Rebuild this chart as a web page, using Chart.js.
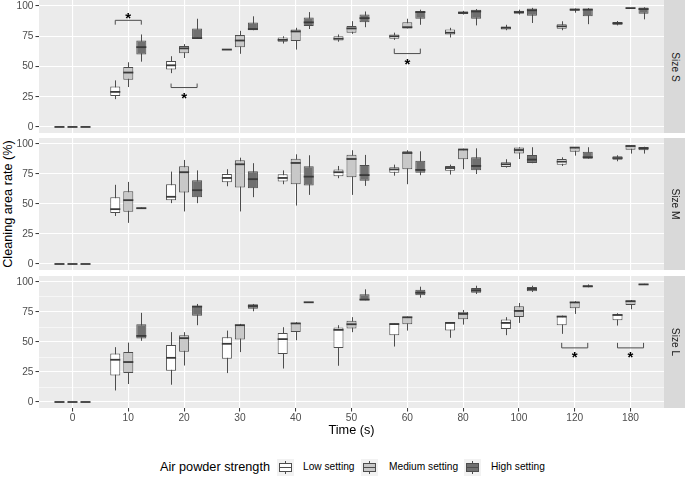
<!DOCTYPE html>
<html>
<head>
<meta charset="utf-8">
<script src="https://cdn.jsdelivr.net/npm/chart.js@4.4.1/dist/chart.umd.min.js"></script>
<style>
  html, body { margin: 0; padding: 0; background: #FFFFFF; }
  body { width: 685px; height: 479px; position: relative; overflow: hidden;
         font-family: "Liberation Sans", Arial, Helvetica, sans-serif; }
  canvas { position: absolute; left: 0; }
  .strip { position: absolute; left: 664px; width: 21px; background: #D9D9D9; }
  .strip span { position: absolute; left: 50%; top: 50%; white-space: nowrap;
                transform: translate(-50%, -50%) rotate(90deg);
                font-size: 10.2px; color: #1A1A1A; line-height: 1; }
  #ytitle { position: absolute; left: 8px; top: 204px; white-space: nowrap;
            transform: translate(-50%, -50%) rotate(-90deg);
            font-size: 12.7px; color: #000; line-height: 1; }
  .lg { position: absolute; top: 467px; transform: translateY(-50%); white-space: nowrap; line-height: 1; }
  .lgtitle { font-size: 12.7px; color: #000; }
  .lgtext { font-size: 10.2px; color: #000; }
  .key { position: absolute; top: 459px; width: 17px; height: 17px; background: #F2F2F2; }
  .key .w { position: absolute; left: 8px; width: 1px; background: #4D4D4D; }
  .key .b { position: absolute; left: 2px; top: 4px; width: 11px; height: 7px; border: 1px solid #4D4D4D; }
  .key .m { position: absolute; left: 2px; top: 8px; width: 13px; height: 1px; background: #4D4D4D; }
</style>
</head>
<body>
<div id="ytitle">Cleaning area rate (%)</div>
<canvas id="c1" width="685" height="133" style="top:0px"></canvas>
<canvas id="c2" width="685" height="132" style="top:138px"></canvas>
<canvas id="c3" width="685" height="162" style="top:276px"></canvas>
<div class="strip" style="top:0px;height:133px"><span id="s1"></span></div>
<div class="strip" style="top:138px;height:132px"><span id="s2"></span></div>
<div class="strip" style="top:276px;height:132px"><span id="s3"></span></div>

<span class="lg lgtitle" style="left:160px">Air powder strength</span>
<div class="key" style="left:277px"><div class="w" style="top:2px;height:3px"></div><div class="w" style="top:12px;height:3px"></div><div class="b" style="background:#FFFFFF"></div><div class="m"></div></div>
<span class="lg lgtext" id="l1" style="left:303px"></span>
<div class="key" style="left:361px"><div class="w" style="top:2px;height:3px"></div><div class="w" style="top:12px;height:3px"></div><div class="b" style="background:#C8C8C8"></div><div class="m"></div></div>
<span class="lg lgtext" id="l2" style="left:389px"></span>
<div class="key" style="left:464px"><div class="w" style="top:2px;height:3px"></div><div class="w" style="top:12px;height:3px"></div><div class="b" style="background:#707070"></div><div class="m"></div></div>
<span class="lg lgtext" id="l3" style="left:491px"></span>

<script>
// ---------------- DATA ----------------
const categories = ['0', '10', '20', '30', '40', '50', '60', '80', '100', '120', '180'];
const seriesNames = ['Low setting', 'Medium setting', 'High setting'];
const panelNames = ['Size S', 'Size M', 'Size L'];
const yTickValues = [0, 12.5, 25, 37.5, 50, 62.5, 75, 87.5, 100];

// box statistics per category: [lower whisker, Q1, median, Q3, upper whisker]
const sizeS_low = [[0,0,0,0,0],[23,25.5,29,33.5,38.5],[44.5,47.5,51,54.5,58.5],[64,64,64,64,64],[69,70.5,72,74,75],[70.5,71.5,73,75,76.5],[72,73,75,76.5,78],[74,76.5,78,80.5,82],[80,80.5,82,83,84.5],[80,81.3,83.2,85,87.4],[84,84.6,85.7,86.8,87.6]];
const sizeS_medium = [[0,0,0,0,0],[33,39,45,49.5,53.5],[57,61,65,67,68.5],[60.5,66,71.5,76,79.5],[64,71,79,80.5,82],[77,78,81.5,83.5,87.5],[81.5,81.5,82.5,86.5,89.5],[93,93.5,94.5,95.5,96],[93,93.7,95,96.2,97],[94.5,96.2,97,97.9,98],[98.3,98.3,98.3,98.3,98.3]];
const sizeS_high = [[0,0,0,0,0],[54,60,66,71.5,76.5],[73,73,73.5,81.5,89.5],[80,80,81,86.3,91.5],[81,83.5,86.5,90.5,95],[82.5,86.5,90,93,95.5],[84.5,89.5,95,96,97],[84,89.5,95.5,97,97.5],[86,92,96.5,98,98.5],[85,91.5,97,98,98.3],[89,93.7,97.5,98.7,99]];

const sizeM_low = [[0,0,0,0,0],[40,42.4,45.7,55.7,66],[50.7,53.2,56,66.5,77],[64.8,68.2,71.7,75,79],[66.5,68.7,71.7,74.8,78],[71.5,73.2,76.5,78.8,81.7],[73.6,76.1,78.8,80.6,82.8],[74.5,77.8,80,81.7,82.8],[80.3,80.9,83.1,84.8,87.3],[81.7,82.8,85.3,87.5,88.9],[85.6,86.9,88.3,89.7,90.6]];
const sizeM_medium = [[0,0,0,0,0],[34.3,43.5,53.2,60.7,68.4],[43.8,59.5,76.5,81.5,86.7],[43.8,63.7,83.1,86.4,88.6],[48.7,66.5,84.2,87.8,91.4],[57.6,72.3,87.5,91.1,94.8],[66.5,79,92.5,93.9,94.8],[79,87.3,95.4,95.6,96.1],[87.5,92,95,97.1,97.3],[90.3,93.6,97,97.3,97.5],[92,95.3,98.3,98.9,99]];
const sizeM_high = [[0,0,0,0,0],[46,46,46.5,47,47],[50.7,55.7,61.5,69.8,78],[55.7,63.2,70.7,77.3,84],[57.6,65.4,72.8,81.5,90.6],[65.1,69.3,74.1,82.4,90.9],[74,76.1,78.4,86.1,93.9],[75,78.1,81.7,88.9,96.4],[84,84.2,87,90.9,97.3],[87.8,87.8,89,93.6,97.3],[92,94.8,96.5,97.5,97.7]];

const sizeL_low = [[0,0,0,0,0],[9.6,22.1,35.2,40.4,45.7],[14.4,26,36.8,47.4,58.2],[24.1,36,48.5,54,59.5],[27.9,40.1,52.4,57.6,62.3],[30.2,44.9,60.1,62,64],[46.2,55.7,65,65.1,65.3],[53.5,59.5,65.9,66.2,66.5],[55.7,60.9,65.9,68.7,70.7],[56.8,64,71.2,71.5,72],[63.7,68.2,72.5,73.2,74]];
const sizeL_medium = [[0,0,0,0,0],[15,24.1,33.3,41.6,49.5],[30.4,41.8,53.2,55.7,58.2],[41.6,52,64,64.5,65.1],[51.5,58.4,65.5,65.9,66.5],[58.2,61.2,64.8,67.8,70.7],[59.5,64.8,70.6,71,71.2],[64.5,69,73.4,75.3,76.7],[65.9,70.9,75.9,79.8,82.5],[73.4,78.1,83,83.4,84],[77.3,80.9,84,84.5,85]];
const sizeL_high = [[0,0,0,0,0],[51,52.9,55.1,64.8,74.3],[64,71.8,79.5,80.3,81.7],[75.6,77.8,80,81.5,81.7],[83,83,83.1,83.2,83.2],[84.8,84.8,85.3,89.8,93.9],[86.9,88.9,91.1,93.6,96.1],[90,91.1,93,95,96.9],[91.7,92.3,94.2,95.8,96.9],[95.6,95.6,96.4,97.2,98],[97.5,97.7,98,98.3,98.5]];

// significance annotations: category index, bracket level, bracket tip level, star level (data units)
const signifS = [{cat: 1, line: 88.2, tip: 84.6, star: 93}, {cat: 2, line: 32.6, tip: 35.9, star: 27}, {cat: 6, line: 60.7, tip: 64.8, star: 55.1}];
const signifM = [];
const signifL = [{cat: 9, line: 45.1, tip: 49.3, star: 40.4}, {cat: 10, line: 45.1, tip: 49.3, star: 40.4}];

// ---------------- STYLE ----------------
const FONT = '"Liberation Sans", Arial, Helvetica, sans-serif';
const fills = ['#FFFFFF', '#C8C8C8', '#707070'];
const outline = '#4D4D4D';

document.getElementById('s1').textContent = panelNames[0];
document.getElementById('s2').textContent = panelNames[1];
document.getElementById('s3').textContent = panelNames[2];
document.getElementById('l1').textContent = seriesNames[0];
document.getElementById('l2').textContent = seriesNames[1];
document.getElementById('l3').textContent = seriesNames[2];

const panelBg = {
  id: 'panelBg',
  beforeDraw(chart) {
    const a = chart.chartArea, ctx = chart.ctx;
    ctx.save();
    ctx.fillStyle = '#EBEBEB';
    ctx.fillRect(a.left, a.top, a.right - a.left, a.bottom - a.top);
    ctx.restore();
  }
};

const boxParts = {
  id: 'boxParts',
  beforeDatasetsDraw(chart) {
    const ctx = chart.ctx, ys = chart.scales.y;
    chart.data.datasets.forEach((ds, di) => {
      const meta = chart.getDatasetMeta(di);
      meta.data.forEach((el, i) => {
        const st = ds.stats[i];
        const x = Math.round(el.x) + 0.5;
        ctx.save();
        ctx.strokeStyle = outline;
        ctx.lineWidth = 1;
        ctx.beginPath();
        ctx.moveTo(x, ys.getPixelForValue(st[0]));
        ctx.lineTo(x, ys.getPixelForValue(st[4]));
        ctx.stroke();
        ctx.restore();
      });
    });
  },
  afterDatasetsDraw(chart) {
    const ctx = chart.ctx, ys = chart.scales.y;
    chart.data.datasets.forEach((ds, di) => {
      const meta = chart.getDatasetMeta(di);
      meta.data.forEach((el, i) => {
        const st = ds.stats[i];
        const y = ys.getPixelForValue(st[2]);
        ctx.save();
        ctx.strokeStyle = '#3A3A3A';
        ctx.lineWidth = 1.8;
        ctx.beginPath();
        ctx.moveTo(el.x - el.width / 2, y);
        ctx.lineTo(el.x + el.width / 2, y);
        ctx.stroke();
        ctx.restore();
      });
    });
    // significance brackets
    const sig = chart.options.plugins.signif.items || [];
    sig.forEach(s => {
      const a = chart.getDatasetMeta(0).data[s.cat];
      const b = chart.getDatasetMeta(2).data[s.cat];
      const yl = ys.getPixelForValue(s.line), yt = ys.getPixelForValue(s.tip), yst = ys.getPixelForValue(s.star);
      ctx.save();
      ctx.strokeStyle = '#4D4D4D';
      ctx.lineWidth = 1;
      ctx.beginPath();
      ctx.moveTo(a.x, yt); ctx.lineTo(a.x, yl); ctx.lineTo(b.x, yl); ctx.lineTo(b.x, yt);
      ctx.stroke();
      ctx.fillStyle = '#000000';
      ctx.font = 'bold 15px ' + FONT;
      ctx.textAlign = 'center';
      ctx.textBaseline = 'alphabetic';
      ctx.fillText('*', (a.x + b.x) / 2, yst + 0.57 * 15);
      ctx.restore();
    });
  }
};

function makeDatasets(low, medium, high) {
  return [low, medium, high].map((stats, s) => ({
    label: seriesNames[s],
    data: stats.map((st, i) => ({x: i, y: [st[1], st[3]]})),
    stats: stats,
    backgroundColor: fills[s],
    borderColor: outline,
    borderWidth: 1,
    borderSkipped: false,
    categoryPercentage: 0.7,
    barPercentage: 0.77
  }));
}

function makePanel(id, datasets, signif, isBottom) {
  new Chart(document.getElementById(id), {
    type: 'bar',
    data: {datasets: datasets},
    plugins: [panelBg, boxParts],
    options: {
      responsive: false,
      animation: false,
      layout: {padding: {left: 0, right: 21, top: 0, bottom: 0}},
      plugins: {legend: {display: false}, tooltip: {enabled: false}, signif: {items: signif}},
      scales: {
        x: {
          type: 'linear', min: -0.6, max: 10.6, offset: false,
          afterBuildTicks: s => { s.ticks = categories.map((c, i) => ({value: i})); },
          afterFit: s => { s.paddingLeft = 0; s.paddingRight = 0; s.height = isBottom ? 30 : 0; },
          grid: {offset: false, color: '#FFFFFF', lineWidth: 1.1, drawTicks: isBottom, tickLength: 3.5,
                 tickColor: '#333333', tickWidth: 1},
          border: {display: false},
          ticks: {display: isBottom, autoSkip: false, maxRotation: 0, padding: 1, color: '#4D4D4D',
                  font: {size: 10.2, family: FONT}, callback: v => categories[v]},
          title: {display: isBottom, text: 'Time (s)', color: '#000000', font: {size: 12.7, family: FONT},
                  padding: {top: 0, bottom: 0}}
        },
        y: {
          min: -5, max: 105,
          afterBuildTicks: s => { s.ticks = yTickValues.map(v => ({value: v})); },
          afterFit: s => { s.width = 39; s.paddingTop = 0; s.paddingBottom = 0; },
          grid: {
            offset: false,
            color: '#FFFFFF',
            lineWidth: c => (c.tick && c.tick.value % 25 === 0) ? 1.1 : 0.55,
            tickColor: c => (c.tick && c.tick.value % 25 === 0) ? '#333333' : 'rgba(0,0,0,0)',
            tickWidth: 1, tickLength: 3.5, drawTicks: true
          },
          border: {display: false},
          ticks: {padding: 2, color: '#4D4D4D', font: {size: 10.2, family: FONT},
                  callback: v => (v % 25 === 0 ? String(v) : '')}
        }
      }
    }
  });
}

makePanel('c1', makeDatasets(sizeS_low, sizeS_medium, sizeS_high), signifS, false);
makePanel('c2', makeDatasets(sizeM_low, sizeM_medium, sizeM_high), signifM, false);
makePanel('c3', makeDatasets(sizeL_low, sizeL_medium, sizeL_high), signifL, true);
</script>
</body>
</html>
